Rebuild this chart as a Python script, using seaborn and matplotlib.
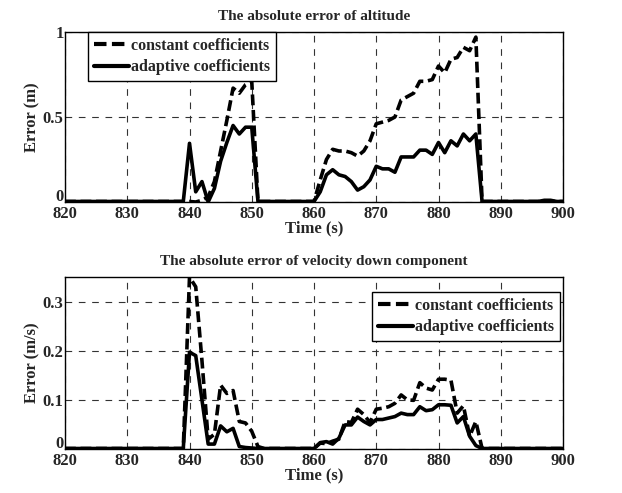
import numpy as np
import pandas as pd
import seaborn as sns
import matplotlib
matplotlib.use("Agg")
import matplotlib.pyplot as plt
import matplotlib.transforms as mtransforms

# Time axis (s), one sample per second
time_s = list(range(820, 901))

# Altitude absolute error (m)
alt_const_active = {
    841: 0.0, 842: 0.01, 843: 0.03, 844: 0.12, 845: 0.30, 846: 0.48, 847: 0.67,
    848: 0.64, 849: 0.69, 850: 0.71,
    861: 0.13, 862: 0.25, 863: 0.31, 864: 0.30, 865: 0.30, 866: 0.29, 867: 0.27,
    868: 0.30, 869: 0.36, 870: 0.46, 871: 0.47, 872: 0.48, 873: 0.50, 874: 0.60,
    875: 0.62, 876: 0.64, 877: 0.71, 878: 0.71, 879: 0.72, 880: 0.80, 881: 0.76,
    882: 0.84, 883: 0.85, 884: 0.91, 885: 0.89, 886: 0.97,
}
alt_adapt_active = {
    840: 0.345, 841: 0.06, 842: 0.12, 843: 0.0, 844: 0.08, 845: 0.24, 846: 0.35,
    847: 0.45, 848: 0.40, 849: 0.44, 850: 0.44,
    861: 0.06, 862: 0.16, 863: 0.19, 864: 0.16, 865: 0.15, 866: 0.12, 867: 0.07,
    868: 0.09, 869: 0.13, 870: 0.21, 871: 0.195, 872: 0.195, 873: 0.175,
    874: 0.265, 875: 0.265, 876: 0.265, 877: 0.305, 878: 0.305, 879: 0.28,
    880: 0.35, 881: 0.29, 882: 0.36, 883: 0.33, 884: 0.40, 885: 0.36, 886: 0.40,
    897: 0.01, 898: 0.01,
}

# Velocity-down absolute error (m/s)
vel_const_active = {
    840: 0.35, 841: 0.33, 842: 0.18, 843: 0.02, 844: 0.03, 845: 0.13, 846: 0.113,
    847: 0.119, 848: 0.056, 849: 0.053, 850: 0.036, 851: 0.005,
    861: 0.012, 862: 0.011, 863: 0.016, 864: 0.02, 865: 0.056, 866: 0.054,
    867: 0.081, 868: 0.07, 869: 0.054, 870: 0.081, 871: 0.083, 872: 0.086,
    873: 0.093, 874: 0.11, 875: 0.10, 876: 0.099, 877: 0.135, 878: 0.124,
    879: 0.12, 880: 0.142, 881: 0.142, 882: 0.14, 883: 0.073, 884: 0.088,
    885: 0.026, 886: 0.056,
}
vel_adapt_active = {
    840: 0.197, 841: 0.19, 842: 0.10, 843: 0.01, 844: 0.01, 845: 0.047,
    846: 0.035, 847: 0.042, 848: 0.005, 849: 0.003, 850: 0.002,
    861: 0.013, 862: 0.015, 863: 0.01, 864: 0.022, 865: 0.049, 866: 0.049,
    867: 0.065, 868: 0.056, 869: 0.049, 870: 0.06, 871: 0.06, 872: 0.063,
    873: 0.066, 874: 0.073, 875: 0.07, 876: 0.07, 877: 0.086, 878: 0.078,
    879: 0.08, 880: 0.09, 881: 0.09, 882: 0.089, 883: 0.053, 884: 0.066,
    885: 0.026, 886: 0.007,
}

alt_floor = 0.003
vel_floor = 0.001

alt_const = [alt_const_active.get(t, alt_floor) for t in time_s]
alt_adapt = [alt_adapt_active.get(t, alt_floor) for t in time_s]
vel_const = [vel_const_active.get(t, vel_floor) for t in time_s]
vel_adapt = [vel_adapt_active.get(t, vel_floor) for t in time_s]

series_names = ["constant coefficients", "adaptive coefficients"]
x_ticks = list(range(820, 901, 10))
alt_ticks = [0, 0.5, 1]
alt_tick_labels = ["0", "0.5", "1"]
vel_ticks = [0, 0.1, 0.2, 0.3]
vel_tick_labels = ["0", "0.1", "0.2", "0.3"]


def long_frame(c, a):
    return pd.DataFrame({
        "Time": time_s * 2,
        "Error": c + a,
        "Method": [series_names[0]] * len(time_s) + [series_names[1]] * len(time_s),
    })


sns.set_style("white")
plt.rcParams["font.family"] = ["Liberation Serif", "DejaVu Serif"]
plt.rcParams["font.weight"] = "bold"
plt.rcParams["axes.labelweight"] = "bold"
plt.rcParams["axes.titleweight"] = "bold"

W, H = 622, 493
fig = plt.figure(figsize=(W / 100, H / 100), dpi=100)
fig.patch.set_facecolor("white")
ax_top = fig.add_axes([65 / W, 1 - 202 / H, 498 / W, 170 / H])
ax_bot = fig.add_axes([65 / W, 1 - 449 / H, 498 / W, 172 / H])

panels = [
    (ax_top, long_frame(alt_const, alt_adapt), (0, 1), alt_ticks, alt_tick_labels,
     "Error (m)", "The absolute error of altitude", "upper left",
     ((88 - 65) / 498, 1.0)),
    (ax_bot, long_frame(vel_const, vel_adapt), (0, 0.35), vel_ticks, vel_tick_labels,
     "Error (m/s)", "The absolute error of velocity down component", "upper right",
     ((560 - 65) / 498, 1 - (292 - 277) / 172)),
]

for ax, df, ylim, yt, ytl, ylabel, title, loc, anchor in panels:
    sns.lineplot(data=df, x="Time", y="Error", style="Method", hue="Method",
                 palette=["black", "black"],
                 dashes={series_names[0]: (3.0, 1.3), series_names[1]: ""},
                 linewidth=2.6, ax=ax, legend=True)
    ax.set_xlim(820, 900)
    ax.set_ylim(*ylim)
    ax.set_xticks(x_ticks)
    ax.set_xticklabels([str(v) for v in x_ticks])
    ax.set_yticks(yt)
    ax.set_yticklabels(ytl)
    ax.grid(True, color="#333333", linestyle=(0, (6, 6)), linewidth=0.8)
    ax.set_axisbelow(True)
    for s in ax.spines.values():
        s.set_color("black")
        s.set_linewidth(1.0)
    ax.tick_params(axis="x", labelsize=12, pad=3, length=0)
    ax.tick_params(axis="y", labelsize=12, pad=1, length=0)
    # lift the zero label so it sits just above the first x label
    for lab in ax.get_yticklabels():
        if lab.get_text() == "0":
            lab.set_transform(lab.get_transform() +
                              mtransforms.ScaledTranslation(0, 5 / 72, fig.dpi_scale_trans))
    ax.set_xlabel("Time (s)", fontsize=12, labelpad=-1)
    ax.set_ylabel(ylabel, fontsize=12, labelpad=2)
    ax.set_title(title, fontsize=11, pad=9)
    leg = ax.legend(loc=loc, bbox_to_anchor=anchor, fontsize=11.5, frameon=True,
                    fancybox=False, framealpha=1, edgecolor="black",
                    handlelength=2.2, handletextpad=0.15, borderpad=0.35,
                    labelspacing=0.35, borderaxespad=0)
    leg.get_frame().set_linewidth(1.0)
    for line in leg.get_lines():
        line.set_linewidth(3.0)

fig.savefig("out.png", dpi=100, facecolor="white")
